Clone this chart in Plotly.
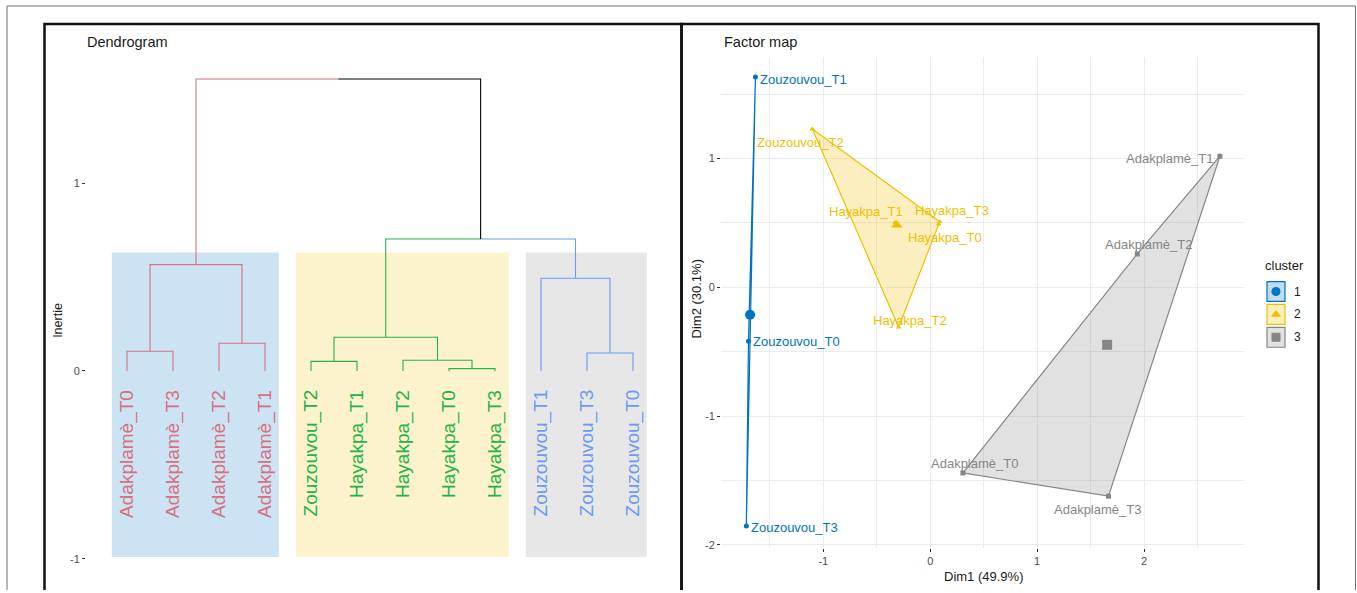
import plotly.graph_objects as go

W, H = 1357, 593
FONT = "Liberation Sans, Arial, sans-serif"

# ---------------- Dendrogram (hierarchical clustering on PCs) ----------------
leaf_labels = ["Adakplamè_T0", "Adakplamè_T3", "Adakplamè_T2", "Adakplamè_T1",
               "Zouzouvou_T2", "Hayakpa_T1", "Hayakpa_T2", "Hayakpa_T0", "Hayakpa_T3",
               "Zouzouvou_T1", "Zouzouvou_T3", "Zouzouvou_T0"]
leaf_groups = [1, 1, 1, 1, 2, 2, 2, 2, 2, 3, 3, 3]

# agglomeration steps: children (leaf name or "m<i>") and merge height (inertia)
merge_left = ["Adakplamè_T0", "Adakplamè_T2", "m0", "Zouzouvou_T2", "Hayakpa_T0",
              "Hayakpa_T2", "m3", "Zouzouvou_T3", "Zouzouvou_T1", "m6", "m2"]
merge_right = ["Adakplamè_T3", "Adakplamè_T1", "m1", "Hayakpa_T1", "Hayakpa_T3",
               "m4", "m5", "Zouzouvou_T0", "m7", "m8", "m9"]
merge_height = [0.105, 0.147, 0.566, 0.051, 0.012, 0.057, 0.179, 0.095, 0.493, 0.702, 1.554]

inertia_ticks = [-1, 0, 1]

branch_colors = {1: "#D7707F", 2: "#22B447", 3: "#6B9AF2", 0: "#000000"}
rect_fill = {1: "rgba(0,115,194,0.2)", 2: "rgba(239,192,0,0.2)", 3: "rgba(134,134,134,0.2)"}
RECT_TOP, RECT_BOTTOM = 0.63, -0.99

# ---------------- Factor map (individuals on Dim1 / Dim2) ----------------
ind_names = ["Zouzouvou_T1", "Zouzouvou_T0", "Zouzouvou_T3",
             "Zouzouvou_T2", "Hayakpa_T1", "Hayakpa_T3", "Hayakpa_T0", "Hayakpa_T2",
             "Adakplamè_T1", "Adakplamè_T2", "Adakplamè_T0", "Adakplamè_T3"]
dim1 = [-1.635, -1.700, -1.720, -1.103, -0.330, 0.089, 0.080, -0.295, 2.710, 1.937, 0.306, 1.668]
dim2 = [1.632, -0.419, -1.853, 1.230, 0.504, 0.509, 0.490, -0.309, 1.018, 0.259, -1.441, -1.621]
ind_cluster = [1, 1, 1, 2, 2, 2, 2, 2, 3, 3, 3, 3]

cluster_ids = [1, 2, 3]
cluster_colors = {1: "#0073C2", 2: "#EFC000", 3: "#868686"}
cluster_fill = {1: "rgba(0,115,194,0.25)", 2: "rgba(239,192,0,0.25)", 3: "rgba(134,134,134,0.25)"}
cluster_symbols = {1: "circle", 2: "triangle-up", 3: "square"}

dim_ticks = [-2, -1, 0, 1, 2]

# text placement around each point (pixel shifts, anchor)
label_place = {
    "Zouzouvou_T1": (3, -2, "left"), "Zouzouvou_T0": (3, 0, "left"),
    "Zouzouvou_T3": (3, -1, "left"), "Zouzouvou_T2": (-12, -14, "center"),
    "Hayakpa_T1": (-29, 11, "center"), "Hayakpa_T3": (12, 11, "center"),
    "Hayakpa_T0": (6, -13, "center"), "Hayakpa_T2": (11, 7, "center"),
    "Adakplamè_T1": (-5, -2, "right"), "Adakplamè_T2": (11, 9, "center"),
    "Adakplamè_T0": (12, 9, "center"), "Adakplamè_T3": (-11, -13, "center"),
}


def convex_hull(points):
    pts = sorted(set(points))
    if len(pts) <= 2:
        return pts

    def cross(o, a, b):
        return (a[0] - o[0]) * (b[1] - o[1]) - (a[1] - o[1]) * (b[0] - o[0])

    lower, upper = [], []
    for p in pts:
        while len(lower) >= 2 and cross(lower[-2], lower[-1], p) <= 0:
            lower.pop()
        lower.append(p)
    for p in reversed(pts):
        while len(upper) >= 2 and cross(upper[-2], upper[-1], p) <= 0:
            upper.pop()
        upper.append(p)
    return lower[:-1] + upper[:-1]


fig = go.Figure()

# ---- dendrogram branches ----
node_x, node_h, node_g = {}, {}, {}
for i, (lab, g) in enumerate(zip(leaf_labels, leaf_groups)):
    node_x[lab], node_h[lab], node_g[lab] = i + 1, 0.0, g
segs = {k: ([], []) for k in branch_colors}
for j, (a, b, h) in enumerate(zip(merge_left, merge_right, merge_height)):
    name = f"m{j}"
    node_x[name] = (node_x[a] + node_x[b]) / 2
    node_h[name] = h
    node_g[name] = node_g[a] if node_g[a] == node_g[b] else 0
    for c in (a, b):
        xs, ys = segs[node_g[c]]
        xs += [node_x[c], node_x[c], node_x[name], None]
        ys += [node_h[c], h, h, None]

for g, (xs, ys) in segs.items():
    fig.add_trace(go.Scatter(x=xs, y=ys, mode="lines", xaxis="x", yaxis="y",
                             line=dict(color=branch_colors[g], width=1.1),
                             hoverinfo="skip", showlegend=False))

shapes = []
for g in sorted(set(leaf_groups)):
    idx = [i + 1 for i, gg in enumerate(leaf_groups) if gg == g]
    shapes.append(dict(type="rect", xref="x", yref="y", layer="below",
                       x0=min(idx) - 0.33, x1=max(idx) + 0.30,
                       y0=RECT_BOTTOM, y1=RECT_TOP,
                       fillcolor=rect_fill[g], line=dict(width=0)))

annotations = []
for i, (lab, g) in enumerate(zip(leaf_labels, leaf_groups)):
    annotations.append(dict(x=i + 1, y=0, xref="x", yref="y", text=lab,
                            textangle=-90, showarrow=False, xanchor="center",
                            yanchor="top", yshift=-17,
                            font=dict(size=19, color=branch_colors[g], family=FONT)))

# ---- factor map: hulls, points, centres ----
for k in cluster_ids:
    pts = [(x, y) for x, y, c in zip(dim1, dim2, ind_cluster) if c == k]
    hull = convex_hull(pts)
    hx = [p[0] for p in hull] + [hull[0][0]]
    hy = [p[1] for p in hull] + [hull[0][1]]
    fig.add_trace(go.Scatter(x=hx, y=hy, mode="lines", fill="toself",
                             fillcolor=cluster_fill[k], xaxis="x2", yaxis="y2",
                             line=dict(color=cluster_colors[k], width=1.2),
                             hoverinfo="skip", showlegend=False))

for k in cluster_ids:
    xs = [x for x, c in zip(dim1, ind_cluster) if c == k]
    ys = [y for y, c in zip(dim2, ind_cluster) if c == k]
    fig.add_trace(go.Scatter(x=xs, y=ys, mode="markers", xaxis="x2", yaxis="y2",
                             marker=dict(symbol=cluster_symbols[k], size=5,
                                         color=cluster_colors[k]),
                             showlegend=False))
    fig.add_trace(go.Scatter(x=[sum(xs) / len(xs)], y=[sum(ys) / len(ys)],
                             mode="markers", xaxis="x2", yaxis="y2",
                             marker=dict(symbol=cluster_symbols[k], size=10,
                                         color=cluster_colors[k]),
                             showlegend=False))

for name, x, y, c in zip(ind_names, dim1, dim2, ind_cluster):
    dx, dy, anc = label_place[name]
    annotations.append(dict(x=x, y=y, xref="x2", yref="y2", text=name,
                            showarrow=False, xanchor=anc, yanchor="middle",
                            xshift=dx, yshift=dy,
                            font=dict(size=13, color=cluster_colors[c], family=FONT)))

# ---- cluster legend (drawn on a full-page overlay axis) ----
leg_y = [293, 316, 339]
for k, ly in zip(cluster_ids, leg_y):
    shapes.append(dict(type="rect", xref="x3", yref="y3", x0=1267, x1=1285,
                       y0=ly - 10, y1=ly + 10, fillcolor=cluster_fill[k],
                       line=dict(color=cluster_colors[k], width=1.2)))
    annotations.append(dict(x=1292, y=ly, xref="x3", yref="y3", text=str(k),
                            showarrow=False, xanchor="left", yanchor="middle",
                            font=dict(size=12, color="#1A1A1A", family=FONT)))
fig.add_trace(go.Scatter(x=[1276] * 3, y=leg_y, mode="markers", xaxis="x3", yaxis="y3",
                         marker=dict(symbol=[cluster_symbols[k] for k in cluster_ids],
                                     size=9, color=[cluster_colors[k] for k in cluster_ids]),
                         hoverinfo="skip", showlegend=False))
annotations.append(dict(x=1284, y=267, xref="x3", yref="y3", text="cluster",
                        showarrow=False, xanchor="center", yanchor="middle",
                        font=dict(size=13, color="#1A1A1A", family=FONT)))

# ---- titles and axis titles ----
annotations += [
    dict(x=85, y=42, xref="x3", yref="y3", text="Dendrogram", showarrow=False,
         xanchor="left", yanchor="middle", font=dict(size=14.5, color="#1A1A1A", family=FONT)),
    dict(x=722, y=42, xref="x3", yref="y3", text="Factor map", showarrow=False,
         xanchor="left", yanchor="middle", font=dict(size=14.5, color="#1A1A1A", family=FONT)),
    dict(x=58.5, y=322, xref="x3", yref="y3", text="Inertie", textangle=-90,
         showarrow=False, xanchor="center", yanchor="middle",
         font=dict(size=12.5, color="#1A1A1A", family=FONT)),
    dict(x=983, y=579, xref="x3", yref="y3", text="Dim1 (49.9%)", showarrow=False,
         xanchor="center", yanchor="middle", font=dict(size=13, color="#1A1A1A", family=FONT)),
    dict(x=696, y=301, xref="x3", yref="y3", text="Dim2 (30.1%)", textangle=-90,
         showarrow=False, xanchor="center", yanchor="middle",
         font=dict(size=13, color="#1A1A1A", family=FONT)),
]

# ---- panel frames ----
shapes += [
    dict(type="rect", xref="x3", yref="y3", x0=7, x1=1355.5, y0=6, y1=640,
         line=dict(color="#6E6E6E", width=1)),
    dict(type="rect", xref="x3", yref="y3", x0=44.5, x1=681.5, y0=24, y1=640,
         line=dict(color="#111111", width=2.5)),
    dict(type="rect", xref="x3", yref="y3", x0=681.5, x1=1318.5, y0=24, y1=640,
         line=dict(color="#111111", width=2.5)),
]

tickfont = dict(size=11, color="#4D4D4D", family=FONT)
fig.update_layout(
    width=W, height=H, margin=dict(l=0, r=0, t=0, b=0),
    paper_bgcolor="white", plot_bgcolor="rgba(0,0,0,0)",
    showlegend=False, font=dict(family=FONT),
    shapes=shapes, annotations=annotations,
    xaxis=dict(domain=[86 / W, 675 / W], range=[1 + (86 - 127) / 46, 1 + (675 - 127) / 46],
               visible=False, fixedrange=True),
    yaxis=dict(domain=[1 - 590 / H, 1 - 40 / H],
               range=[(372.8 - 590) / 188.8, (372.8 - 40) / 188.8],
               tickvals=inertia_ticks, ticktext=[str(v) for v in inertia_ticks],
               ticks="outside", ticklen=3, tickcolor="#333333", tickfont=tickfont,
               showgrid=False, zeroline=False, showline=False, fixedrange=True),
    xaxis2=dict(domain=[721 / W, 1244 / W], anchor="y2",
                range=[(721 - 930.2) / 106.9, (1244 - 930.2) / 106.9],
                tickvals=dim_ticks, ticktext=[str(v) for v in dim_ticks],
                ticks="outside", ticklen=3, tickcolor="#333333", tickfont=tickfont,
                showgrid=True, gridcolor="#EBEBEB", gridwidth=1,
                minor=dict(dtick=0.5, tick0=0, showgrid=True, gridcolor="#EBEBEB", gridwidth=1),
                zeroline=False, showline=False, fixedrange=True),
    yaxis2=dict(domain=[1 - 551 / H, 1 - 57 / H], anchor="x2",
                range=[(288.8 - 551) / 129.47, (288.8 - 57) / 129.47],
                tickvals=dim_ticks, ticktext=[str(v) for v in dim_ticks],
                ticks="outside", ticklen=3, tickcolor="#333333", tickfont=tickfont,
                showgrid=True, gridcolor="#EBEBEB", gridwidth=1,
                minor=dict(dtick=0.5, tick0=0, showgrid=True, gridcolor="#EBEBEB", gridwidth=1),
                zeroline=False, showline=False, fixedrange=True),
    xaxis3=dict(domain=[0, 1], range=[0, W], anchor="y3", visible=False, fixedrange=True),
    yaxis3=dict(domain=[0, 1], range=[H, 0], anchor="x3", visible=False, fixedrange=True),
)

fig.write_html("out.html")
